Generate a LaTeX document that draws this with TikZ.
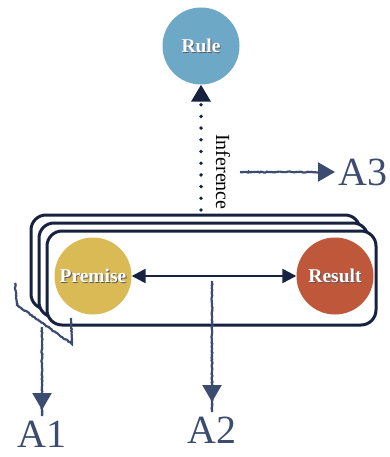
\documentclass[tikz,border=0pt]{standalone}
\usepackage{fontspec}
\setmainfont{Liberation Serif}
\usepackage{xcolor}
\usetikzlibrary{arrows.meta,decorations.pathmorphing}

\definecolor{navy}{HTML}{16223F}
\definecolor{slate}{HTML}{3C4C70}
\definecolor{rulecol}{HTML}{6DA9C7}
\definecolor{premcol}{HTML}{D9BA55}
\definecolor{rescol}{HTML}{BF573B}

% white label with a soft dark shadow
\newcommand{\shadowed}[1]{\makebox[0pt][l]{\hspace{0.9pt}\raisebox{-0.9pt}{\textcolor{black!65}{#1}}}\textcolor{white}{#1}}

\begin{document}
\begin{tikzpicture}[x=1pt,y=-1pt,
    ball/.style={circle, minimum size=77pt, inner sep=0pt, font=\fontsize{19.5}{20}\selectfont\bfseries},
    frame/.style={draw=navy, fill=white, line width=3pt, rounded corners=15pt},
    link/.style={draw=navy, line width=2.4pt},
    dotline/.style={draw=navy, line width=3.8pt, line cap=round, dash pattern=on 0pt off 11.7pt, -{Triangle[length=17pt,width=19pt]}},
    sketchline/.style={draw=slate, line width=2.2pt, decorate, decoration={random steps, segment length=1.5pt, amplitude=0.5pt, post length=5pt}},
    sketcharrow/.style={sketchline, -{Triangle[length=17pt,width=19pt]}},
    tag/.style={text=slate, inner sep=0pt, font=\fontsize{40}{40}\selectfont}]
  \useasboundingbox (0,0) rectangle (390,457);

  % Stacked frames, back to front
  \foreach \d in {16,8,0}
    \draw[frame] (47-\d,231-\d) rectangle (376-\d,325-\d);

  % Circles
  \node[ball, fill=rulecol] (rule) at (201,46) {\shadowed{Rule}};
  \node[ball, fill=premcol] (premise) at (93,276) {\shadowed{Premise}};
  \node[ball, fill=rescol] (result) at (335,276) {\shadowed{Result}};

  % Premise <-> Result
  \draw[link, {Triangle[length=14pt,width=14pt]}-{Triangle[length=14pt,width=14pt]}] (premise) -- (result);

  % Inference (dotted, up to the rule)
  \coordinate (inf) at (201,210);
  \draw[dotline] (inf) -- (rule.south);
  \node[rotate=-90, inner sep=0pt, font=\fontsize{20}{20}\selectfont] (infer) at (223,172) {Inference};

  % Labels
  \node[tag, anchor=west] (a3) at (338,172) {A3};
  \node[tag, anchor=north] (a2) at (212,417) {A2};
  \node[tag, anchor=north] (a1) at (42,421) {A1};

  % Sketched pointers
  \coordinate (a3s) at (240,172);
  \coordinate (a2s) at (212,281);
  \coordinate (a1s) at (42,327);
  \draw[sketcharrow, shorten >=3pt] (a3s) -- (a3.west);
  \draw[sketcharrow, shorten >=15pt] (a2s) -- (a2.north);
  \draw[sketcharrow, shorten >=11pt] (a1s) -- (a1.north);
  \draw[sketchline] (15,283) -- (17,305) -- (72,344) -- (71,318);
\end{tikzpicture}
\end{document}
